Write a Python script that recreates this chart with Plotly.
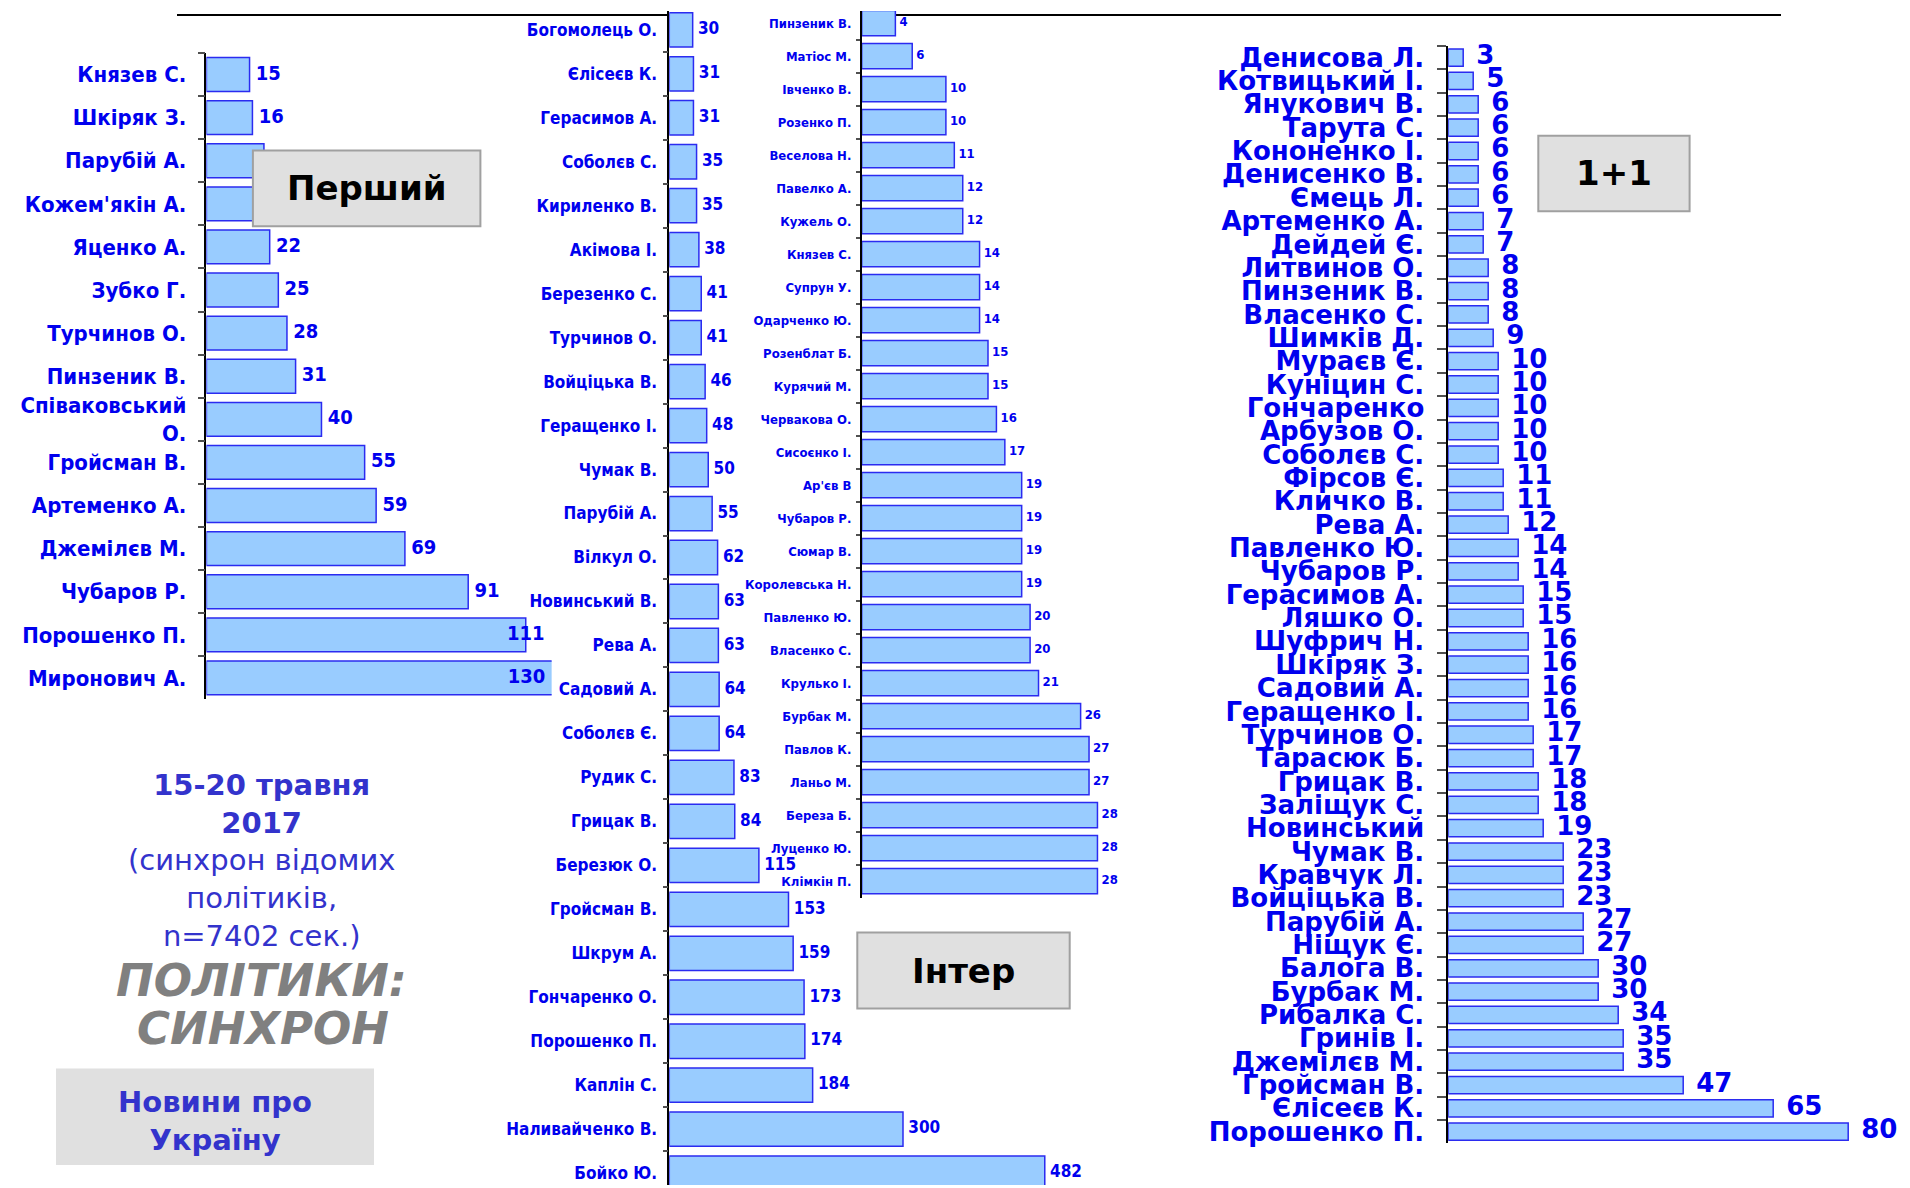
import plotly.graph_objects as go

# ---------------- DATA ----------------
p1_names = ["Князев С.", "Шкіряк З.", "Парубій А.", "Кожем'якін А.", "Яценко А.", "Зубко Г.",
            "Турчинов О.", "Пинзеник В.", "Співаковський<br>О.", "Гройсман В.", "Артеменко А.",
            "Джемілєв М.", "Чубаров Р.", "Порошенко П.", "Миронович А."]
p1_vals = [15, 16, 20, 21, 22, 25, 28, 31, 40, 55, 59, 69, 91, 111, 130]

p2_names = ["Богомолець О.", "Єлісеєв К.", "Герасимов А.", "Соболєв С.", "Кириленко В.", "Акімова І.",
            "Березенко С.", "Турчинов О.", "Войціцька В.", "Геращенко І.", "Чумак В.", "Парубій А.",
            "Вілкул О.", "Новинський В.", "Рева А.", "Садовий А.", "Соболєв Є.", "Рудик С.",
            "Грицак В.", "Березюк О.", "Гройсман В.", "Шкрум А.", "Гончаренко О.", "Порошенко П.",
            "Каплін С.", "Наливайченко В.", "Бойко Ю."]
p2_vals = [30, 31, 31, 35, 35, 38, 41, 41, 46, 48, 50, 55, 62, 63, 63, 64, 64, 83, 84, 115,
           153, 159, 173, 174, 184, 300, 482]

p3_names = ["Пинзеник В.", "Матіос М.", "Івченко В.", "Розенко П.", "Веселова Н.", "Павелко А.",
            "Кужель О.", "Князев С.", "Супрун У.", "Одарченко Ю.", "Розенблат Б.", "Курячий М.",
            "Червакова О.", "Сисоєнко І.", "Ар'єв В", "Чубаров Р.", "Сюмар В.", "Королевська Н.",
            "Павленко Ю.", "Власенко С.", "Крулько І.", "Бурбак М.", "Павлов К.", "Ланьо М.",
            "Береза Б.", "Луценко Ю.", "Клімкін П."]
p3_vals = [4, 6, 10, 10, 11, 12, 12, 14, 14, 14, 15, 15, 16, 17, 19, 19, 19, 19, 20, 20, 21,
           26, 27, 27, 28, 28, 28]

p4_names = ["Денисова Л.", "Котвицький І.", "Янукович В.", "Тарута С.", "Кононенко І.",
            "Денисенко В.", "Ємець Л.", "Артеменко А.", "Дейдей Є.", "Литвинов О.", "Пинзеник В.",
            "Власенко С.", "Шимків Д.", "Мураєв Є.", "Куніцин С.", "Гончаренко", "Арбузов О.",
            "Соболєв С.", "Фірсов Є.", "Кличко В.", "Рева А.", "Павленко Ю.", "Чубаров Р.",
            "Герасимов А.", "Ляшко О.", "Шуфрич Н.", "Шкіряк З.", "Садовий А.", "Геращенко І.",
            "Турчинов О.", "Тарасюк Б.", "Грицак В.", "Заліщук С.", "Новинський", "Чумак В.",
            "Кравчук Л.", "Войціцька В.", "Парубій А.", "Ніщук Є.", "Балога В.", "Бурбак М.",
            "Рибалка С.", "Гринів І.", "Джемілєв М.", "Гройсман В.", "Єлісеєв К.", "Порошенко П."]
p4_vals = [3, 5, 6, 6, 6, 6, 6, 7, 7, 8, 8, 8, 9, 10, 10, 10, 10, 10, 11, 11, 12, 14, 14, 15, 15,
           16, 16, 16, 16, 17, 17, 18, 18, 19, 23, 23, 23, 27, 27, 30, 30, 34, 35, 35, 47, 65, 80]

# ---------------- LAYOUT HELPERS ----------------
# the page body has an 8px margin: the figure is drawn at (8, 8) in the window
OFF = 8
WIN_W, WIN_H = 1910, 1188
FW, FH = WIN_W - OFF, WIN_H - OFF
def fx(x): return (x - OFF) / FW
def fy(y): return 1 - (y - OFF) / FH

BLUE = "#0000EE"
BAR_FILL = "#99CCFF"
BAR_LINE = "#2B2BF0"
COND = "DejaVu Sans Condensed"
DJV = "DejaVu Sans"
NBSP = "\u00a0"
ENSP = "\u2002"

panels = [
    dict(names=p1_names, vals=p1_vals, x0=206.4, ppu=2.877, xmax=120, top=50.2, row=43.32,
         bottom=700.0, bw=0.785, tf=dict(family=COND, size=22, color=BLUE, weight="bold"),
         vf=dict(family=COND, size=20, color=BLUE, weight="bold"), ticklen=7, gap=23, fit=True,
         pad=NBSP),
    dict(names=p2_names, vals=p2_vals, x0=669.3, ppu=0.779, xmax=500, top=4.8, row=44.2,
         bottom=4.8 + 27 * 44.2, bw=0.78, tf=dict(family=COND, size=17, color=BLUE, weight="bold"),
         vf=dict(family=COND, size=17, color=BLUE, weight="bold"), ticklen=5, gap=14, fit=False,
         pad=NBSP),
    dict(names=p3_names, vals=p3_vals, x0=861.7, ppu=8.42, xmax=30, top=3.6, row=33.17,
         bottom=3.6 + 27 * 33.17, bw=0.76, tf=dict(family=COND, size=13, color=BLUE, weight="bold"),
         vf=dict(family=COND, size=13, color=BLUE, weight="bold"), ticklen=4, gap=12, fit=False,
         pad=NBSP),
    dict(names=p4_names, vals=p4_vals, x0=1448.2, ppu=5.0, xmax=90, top=43.1, row=23.47,
         bottom=43.1 + 47 * 23.47, bw=0.74, tf=dict(family=DJV, size=26, color=BLUE, weight="bold"),
         vf=dict(family=DJV, size=26, color=BLUE, weight="bold"), ticklen=9, gap=28, fit=False,
         pad=ENSP),
]

fig = go.Figure()
layout = dict(width=FW, height=FH, margin=dict(l=0, r=0, t=0, b=0, pad=0), showlegend=False,
              paper_bgcolor="white", plot_bgcolor="rgba(0,0,0,0)")

for i, p in enumerate(panels, start=1):
    xa = "x" if i == 1 else f"x{i}"
    ya = "y" if i == 1 else f"y{i}"
    fig.add_trace(go.Bar(x=p["vals"], y=p["names"], orientation="h", xaxis=xa, yaxis=ya,
                         width=p["bw"], marker=dict(color=BAR_FILL, line=dict(color=BAR_LINE, width=1.5)),
                         hoverinfo="skip"))
    # value labels
    xs, pos, txt = [], [], []
    right_px = p["x0"] + p["xmax"] * p["ppu"]
    for v in p["vals"]:
        end_px = p["x0"] + min(v, p["xmax"]) * p["ppu"]
        if v > p["xmax"]:
            xs.append(p["xmax"]); pos.append("middle left"); txt.append(str(v) + NBSP)
        elif p["fit"] and end_px + 40 > right_px:
            xs.append(v); pos.append("middle center"); txt.append(str(v))
        else:
            xs.append(v); pos.append("middle right"); txt.append(p["pad"] + str(v))
    fig.add_trace(go.Scatter(x=xs, y=p["names"], text=txt, mode="text",
                             textposition=pos, textfont=p["vf"], xaxis=xa, yaxis=ya,
                             cliponaxis=False, hoverinfo="skip"))
    # clip the visible part of the category band to the drawable page
    top_eff = max(p["top"], OFF)
    bot_eff = min(p["bottom"], WIN_H)
    r_top = -0.5 + (top_eff - p["top"]) / p["row"]
    r_bot = -0.5 + (bot_eff - p["top"]) / p["row"]
    layout["xaxis" if i == 1 else f"xaxis{i}"] = dict(
        domain=[fx(p["x0"]), fx(right_px)], range=[0, p["xmax"]], anchor=ya,
        showticklabels=False, showgrid=False, zeroline=False, showline=False, ticks="")
    layout["yaxis" if i == 1 else f"yaxis{i}"] = dict(
        domain=[fy(bot_eff), fy(top_eff)], anchor=xa, type="category",
        categoryorder="array", categoryarray=p["names"], tickmode="linear", tick0=0, dtick=1,
        range=[r_bot, r_top], showgrid=False, zeroline=False,
        showline=True, linecolor="black", linewidth=1.5,
        ticks="outside", tickson="boundaries", ticklen=p["ticklen"], tickcolor="#505050",
        tickwidth=1.5, tickfont=p["tf"], ticklabelstandoff=max(p["gap"] - p["ticklen"] - 2, 0))

fig.update_layout(**layout)

# top rule (hidden behind the middle chart area)
shapes = [
    dict(type="line", xref="paper", yref="paper", x0=fx(177), x1=fx(669), y0=fy(12), y1=fy(12),
         line=dict(color="black", width=2), layer="below"),
    dict(type="line", xref="paper", yref="paper", x0=fx(861), x1=fx(1781), y0=fy(12), y1=fy(12),
         line=dict(color="black", width=2), layer="below"),
]
# channel boxes
for (x0, x1, y0, y1) in [(252.9, 480.4, 148.3, 224.3), (857.3, 1069.7, 934.3, 1010.7),
                         (1538.3, 1689.6, 133.3, 209.3)]:
    shapes.append(dict(type="rect", xref="paper", yref="paper", x0=fx(x0), x1=fx(x1),
                       y0=fy(y1), y1=fy(y0), fillcolor="#E0E0E0",
                       line=dict(color="#A0A0A0", width=2), layer="above"))
shapes.append(dict(type="rect", xref="paper", yref="paper", x0=fx(56), x1=fx(374),
                   y0=fy(1168), y1=fy(1071), fillcolor="#E0E0E0", line=dict(width=0), layer="above"))
fig.update_layout(shapes=shapes)

def ann(text, x, y, font, xanchor="center", yanchor="middle"):
    fig.add_annotation(text=text, x=fx(x), y=fy(y), xref="paper", yref="paper",
                       showarrow=False, font=font, xanchor=xanchor, yanchor=yanchor, align="center")

ann("<b>Перший</b>", 366.5, 186.3, dict(family=DJV, size=34, color="black"))
ann("<b>Інтер</b>", 963.5, 972.5, dict(family=DJV, size=34, color="black"))
ann("<b>1+1</b>", 1614, 171.3, dict(family=DJV, size=34, color="black"))

TXT = "#3333CC"
ann("<b>15-20 травня<br>2017</b><br>(синхрон відомих<br>політиків,<br>n=7402 сек.)", 261, 862,
    dict(family=DJV, size=29, color=TXT))
ann("<b><i>ПОЛІТИКИ:</i></b>", 261, 982, dict(family=DJV, size=45, color="#808080"))
ann("<b><i>СИНХРОН</i></b>", 263, 1031, dict(family=DJV, size=45, color="#808080"))
ann("<b>Новини про<br>Україну</b>", 215, 1124, dict(family=DJV, size=29, color=TXT))

fig.write_html("out.html")
